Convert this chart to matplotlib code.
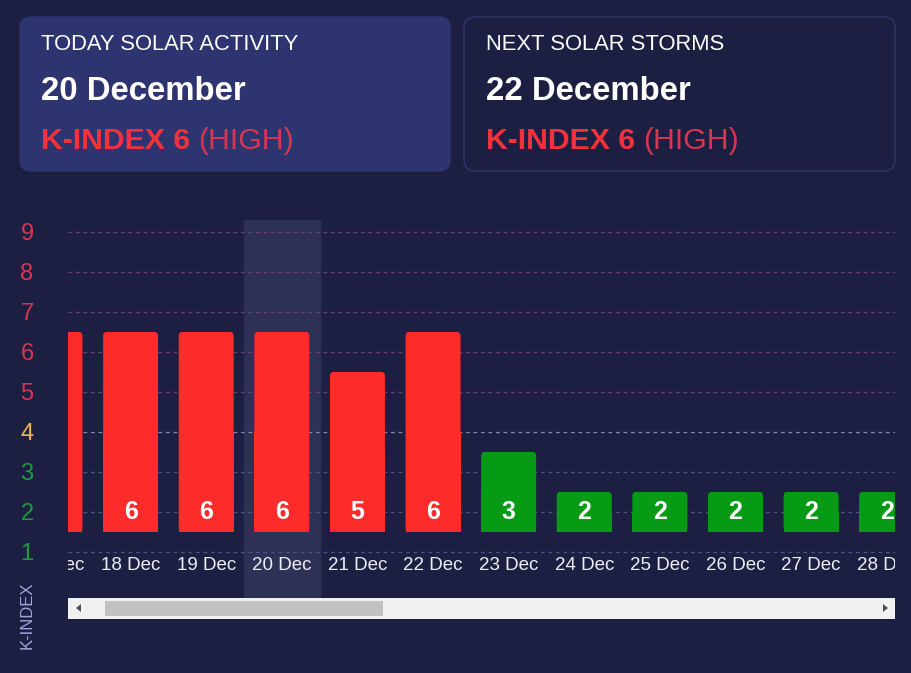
import matplotlib
matplotlib.use("Agg")
import matplotlib.pyplot as plt
from matplotlib.patches import FancyBboxPatch, Rectangle, Polygon

plt.rcParams['font.family'] = ['Liberation Sans', 'DejaVu Sans']

# ---- data ----
dates = ["17 Dec", "18 Dec", "19 Dec", "20 Dec", "21 Dec", "22 Dec",
         "23 Dec", "24 Dec", "25 Dec", "26 Dec", "27 Dec", "28 Dec"]
kindex = [6, 6, 6, 6, 5, 6, 3, 2, 2, 2, 2, 2]
ytick_values = [1, 2, 3, 4, 5, 6, 7, 8, 9]
ytick_colors = ['#1e9a3c', '#1e9a3c', '#1e9a3c', '#e8b84a',
                '#d9364e', '#d9364e', '#d9364e', '#d9364e', '#d9364e']
grid_colors = ['#4d5282', '#4d5282', '#4d5282', '#8a8aa2',
               '#6e3d6e', '#6e3d6e', '#6e3d6e', '#6e3d6e', '#6e3d6e']
today_index = 3
card_left = ("TODAY SOLAR ACTIVITY", "20 December", "K-INDEX 6", "(HIGH)")
card_right = ("NEXT SOLAR STORMS", "22 December", "K-INDEX 6", "(HIGH)")

BG = '#1c1f42'
RED = '#fe2b2b'
GREEN = '#079b15'

W, H = 912, 673
fig = plt.figure(figsize=(W / 100, H / 100), dpi=100, facecolor=BG)


def fx(px):
    return px / W


def fy(py):
    return 1 - py / H


# ---- cards ----
def card(x0, x1, y0, y1, face, edge):
    p = FancyBboxPatch((fx(x0), fy(y1)), fx(x1) - fx(x0), fy(y0) - fy(y1),
                       boxstyle="round,pad=0,rounding_size=0.012",
                       transform=fig.transFigure, facecolor=face,
                       edgecolor=edge, linewidth=1.0, mutation_aspect=W / H)
    fig.patches.append(p)


card(20, 450, 17, 171, '#2e3470', '#2e3470')
card(464, 895, 17, 171, BG, '#313668')

for x0, (t1, t2, t3, t4) in [(41, card_left), (486, card_right)]:
    fig.text(fx(x0), fy(45), t1, color='white', fontsize=15.8, va='center', ha='left')
    fig.text(fx(x0), fy(92), t2, color='white', fontsize=23.7, fontweight='bold',
             va='center', ha='left')
    t = fig.text(fx(x0), fy(141), t3 + " ", color='#f0323c', fontsize=21.8,
                 fontweight='bold', va='center', ha='left')
    fig.canvas.draw()
    bb = t.get_window_extent()
    fig.text(bb.x1 / W, fy(141), t4, color='#da3450', fontsize=21.8,
             va='center', ha='left')

# ---- chart axes ----
ax_left, ax_right, ax_top, ax_bottom = 68, 895, 220, 598
ax = fig.add_axes([fx(ax_left), fy(ax_bottom), fx(ax_right) - fx(ax_left),
                   fy(ax_top) - fy(ax_bottom)])
ax.set_facecolor(BG)
for s in ax.spines.values():
    s.set_visible(False)

x = list(range(len(dates)))
ax.set_xlim(0.172, 11.11)
ax.set_ylim(-0.15, 9.3)

# highlight
ax.axvspan(today_index - 0.5, today_index + 0.5, color='#2d3156', zorder=0)

# gridlines
for v, c in zip(ytick_values, grid_colors):
    ax.axhline(v, color=c, linestyle=(0, (3, 3)), linewidth=0.9, zorder=1)

# bars (rounded top corners)
colors = [RED if v >= 5 else GREEN for v in kindex]
heights = [v - 1 for v in kindex]
bars = ax.bar(x, heights, bottom=1.5, width=0.727, color=colors, zorder=2)
for b in bars:
    bx, by = b.get_x(), b.get_y()
    bw, bh = b.get_width(), b.get_height()
    rp = FancyBboxPatch((bx, by), bw, bh,
                        boxstyle="round,pad=0,rounding_size=0.05",
                        mutation_aspect=75.6 / 40,
                        facecolor=b.get_facecolor(), edgecolor='none', zorder=2)
    ax.add_patch(rp)
    ax.add_patch(Rectangle((bx, by), bw, bh * 0.5, facecolor=b.get_facecolor(),
                           edgecolor='none', zorder=2))
    b.set_visible(False)

for xi, v in zip(x, kindex):
    ax.text(xi, 2, str(v), color='white', fontsize=18, fontweight='bold',
            ha='center', va='center', zorder=3, clip_on=True)
    ax.text(xi, 0.67, dates[xi], color='#eeeef5', fontsize=13.5,
            ha='center', va='center', zorder=3, clip_on=True)

ax.set_xticks([])
ax.set_yticks(ytick_values)
ax.set_yticklabels([str(v) for v in ytick_values], fontsize=17)
for lbl, c in zip(ax.get_yticklabels(), ytick_colors):
    lbl.set_color(c)
    lbl.set_horizontalalignment('center')
ax.tick_params(axis='y', length=0, pad=29.5)

# y axis title
fig.text(fx(27), fy(615), "K-INDEX", rotation=90, color='#a3a4dc',
         fontsize=12, ha='center', va='center')

# ---- scrollbar ----
fig.patches.append(Rectangle((fx(68), fy(619)), fx(895) - fx(68), fy(598) - fy(619),
                             transform=fig.transFigure, facecolor='#f1f1f1',
                             edgecolor='none'))
fig.patches.append(Rectangle((fx(105), fy(616)), fx(383) - fx(105), fy(601) - fy(616),
                             transform=fig.transFigure, facecolor='#c1c1c1',
                             edgecolor='none'))
fig.patches.append(Polygon([(fx(76), fy(608)), (fx(81), fy(604)), (fx(81), fy(612))],
                           closed=True, transform=fig.transFigure,
                           facecolor='#505050', edgecolor='none'))
fig.patches.append(Polygon([(fx(888), fy(608)), (fx(883), fy(604)), (fx(883), fy(612))],
                           closed=True, transform=fig.transFigure,
                           facecolor='#505050', edgecolor='none'))

fig.savefig("out.png", dpi=100, facecolor=BG)
